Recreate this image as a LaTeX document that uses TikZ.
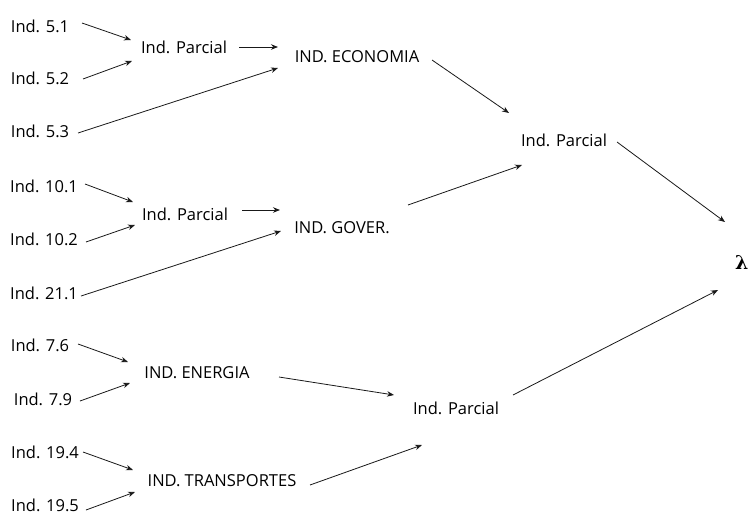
\documentclass[tikz,border=0pt]{standalone}
\usepackage{fontspec}
\setmainfont{Open Sans}
\newfontfamily\lamfont{DejaVu Serif}
\usetikzlibrary{arrows.meta}
\begin{document}
\begin{tikzpicture}[x=1pt,y=-1pt,
  lbl/.style={inner sep=0pt,font=\fontsize{16.5}{19}\selectfont},
  arr/.style={draw=black!90,line width=0.8pt,-{Stealth[length=7pt,width=5.5pt]}}]
\useasboundingbox (0,0) rectangle (749,514);
% indicators
\node[lbl] (n51)  at (40,26)  {Ind. 5.1};
\node[lbl] (n52)  at (40,78)  {Ind. 5.2};
\node[lbl] (n53)  at (40,131) {Ind. 5.3};
\node[lbl] (n101) at (44,186) {Ind. 10.1};
\node[lbl] (n102) at (44,239) {Ind. 10.2};
\node[lbl] (n211) at (44,293) {Ind. 21.1};
\node[lbl] (n76)  at (40,345) {Ind. 7.6};
\node[lbl] (n79)  at (43,399) {Ind. 7.9};
\node[lbl] (n194) at (45,452) {Ind. 19.4};
\node[lbl] (n195) at (45,505) {Ind. 19.5};
% partial and thematic indices
\node[lbl] (p1)  at (184,47)  {Ind. Parcial};
\node[lbl] (eco) at (357,57)  {IND. ECONOMIA};
\node[lbl] (p2)  at (185,214) {Ind. Parcial};
\node[lbl] (gov) at (342,228) {IND. GOVER.};
\node[lbl] (ene) at (197,373) {IND. ENERGIA};
\node[lbl] (tra) at (222,481) {IND. TRANSPORTES};
\node[lbl] (pr)  at (564,140) {Ind. Parcial};
\node[lbl] (pb)  at (456,408) {Ind. Parcial};
\node[inner sep=0pt,anchor=west,font=\lamfont\bfseries\fontsize{19}{21}\selectfont] (lam) at (735,262) {λ};
% connectors
\draw[arr] ([shift={(42,-3)}]n51.center) -- ([shift={(-53,-7)}]p1.center);
\draw[arr] ([shift={(43,1)}]n52.center) -- ([shift={(-52,14)}]p1.center);
\draw[arr] ([shift={(55,0)}]p1.center) -- ([shift={(-79,-10)}]eco.center);
\draw[arr] ([shift={(38,2)}]n53.center) -- ([shift={(-79,11)}]eco.center);
\draw[arr] ([shift={(41,-2)}]n101.center) -- ([shift={(-52,-12)}]p2.center);
\draw[arr] ([shift={(42,3)}]n102.center) -- ([shift={(-50,11)}]p2.center);
\draw[arr] ([shift={(57,-4)}]p2.center) -- ([shift={(-62,-18)}]gov.center);
\draw[arr] ([shift={(37,3)}]n211.center) -- ([shift={(-61,3)}]gov.center);
\draw[arr] ([shift={(75,3)}]eco.center) -- ([shift={(-55,-27)}]pr.center);
\draw[arr] ([shift={(66,-23)}]gov.center) -- ([shift={(-42,25)}]pr.center);
\draw[arr] ([shift={(53,2)}]pr.center) -- ([shift={(-10,-40)}]lam.west);
\draw[arr] ([shift={(57,-13)}]pb.center) -- ([shift={(-17,28)}]lam.west);
\draw[arr] ([shift={(38,-1)}]n76.center) -- ([shift={(-69,-11)}]ene.center);
\draw[arr] ([shift={(37,2)}]n79.center) -- ([shift={(-67,10)}]ene.center);
\draw[arr] ([shift={(82,4)}]ene.center) -- ([shift={(-62,-13)}]pb.center);
\draw[arr] ([shift={(38,0)}]n194.center) -- ([shift={(-89,-11)}]tra.center);
\draw[arr] ([shift={(41,5)}]n195.center) -- ([shift={(-87,11)}]tra.center);
\draw[arr] ([shift={(88,4)}]tra.center) -- ([shift={(-34,37)}]pb.center);
\end{tikzpicture}
\end{document}
